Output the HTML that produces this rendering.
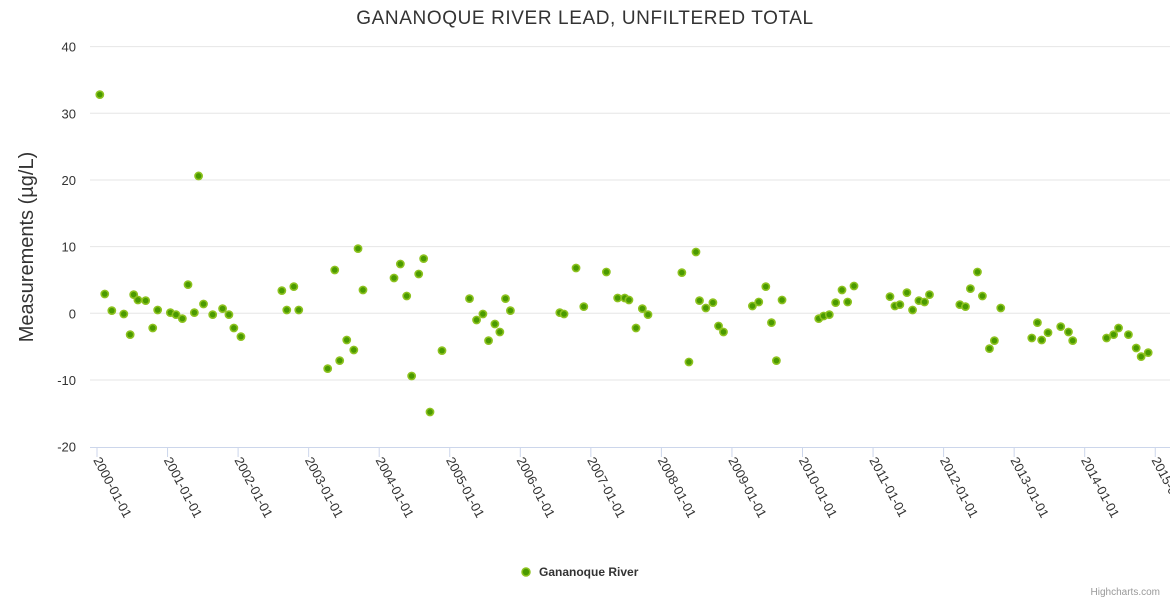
<!DOCTYPE html>
<html><head><meta charset="utf-8"><style>
body{margin:0;background:#fff;font-family:"Liberation Sans",sans-serif}
svg text{font-family:"Liberation Sans",sans-serif}
</style></head><body>
<svg id="c" width="1170" height="600" xmlns="http://www.w3.org/2000/svg">
<rect width="1170" height="600" fill="#fff"/>
<text x="585" y="24" text-anchor="middle" font-size="19" letter-spacing="0.6" fill="#333">GANANOQUE RIVER LEAD, UNFILTERED TOTAL</text>
<text transform="translate(33,247) rotate(-90)" text-anchor="middle" font-size="20" fill="#333">Measurements (µg/L)</text>
<g id="grid"></g><g id="xaxis"></g><g id="pts"></g>
<g>
<circle cx="526" cy="572" r="4" fill="#4a9a00" stroke="#8dc21f" stroke-width="1.5"/>
<text x="539" y="576" font-size="12" font-weight="bold" fill="#333">Gananoque River</text>
</g>
<text x="1160" y="595" text-anchor="end" font-size="10" fill="#999">Highcharts.com</text>
</svg>
<script>
const yTicks=[40,30,20,10,0,-10,-20];
const xTickYears=[2000,2001,2002,2003,2004,2005,2006,2007,2008,2009,2010,2011,2012,2013,2014,2015];
const dates=[2000.04,2000.11,2000.21,2000.38,2000.47,2000.52,2000.58,2000.69,2000.79,2000.86,2001.04,2001.12,2001.21,2001.29,2001.38,2001.44,2001.51,2001.64,2001.78,2001.87,2001.94,2002.04,2002.62,2002.69,2002.79,2002.86,2003.27,2003.37,2003.44,2003.54,2003.64,2003.70,2003.77,2004.21,2004.30,2004.39,2004.46,2004.56,2004.63,2004.72,2004.89,2005.28,2005.38,2005.47,2005.55,2005.64,2005.71,2005.79,2005.86,2006.56,2006.62,2006.79,2006.90,2007.22,2007.38,2007.48,2007.54,2007.64,2007.73,2007.81,2008.29,2008.39,2008.49,2008.54,2008.63,2008.73,2008.81,2008.88,2009.29,2009.38,2009.48,2009.56,2009.63,2009.71,2010.23,2010.30,2010.38,2010.47,2010.56,2010.64,2010.73,2011.24,2011.31,2011.38,2011.48,2011.56,2011.65,2011.73,2011.80,2012.23,2012.31,2012.38,2012.48,2012.55,2012.65,2012.72,2012.81,2013.25,2013.33,2013.39,2013.48,2013.66,2013.77,2013.83,2014.31,2014.41,2014.48,2014.62,2014.73,2014.80,2014.90];
const values=[32.8,2.9,0.4,-0.1,-3.2,2.8,2.0,1.9,-2.2,0.5,0.1,-0.2,-0.8,4.3,0.1,20.6,1.4,-0.2,0.7,-0.2,-2.2,-3.5,3.4,0.5,4.0,0.5,-8.3,6.5,-7.1,-4.0,-5.5,9.7,3.5,5.3,7.4,2.6,-9.4,5.9,8.2,-14.8,-5.6,2.2,-1.0,-0.1,-4.1,-1.6,-2.8,2.2,0.4,0.1,-0.1,6.8,1.0,6.2,2.3,2.3,2.0,-2.2,0.7,-0.2,6.1,-7.3,9.2,1.9,0.8,1.6,-1.9,-2.8,1.1,1.7,4.0,-1.4,-7.1,2.0,-0.8,-0.4,-0.2,1.6,3.5,1.7,4.1,2.5,1.1,1.3,3.1,0.5,1.9,1.7,2.8,1.3,1.0,3.7,6.2,2.6,-5.3,-4.1,0.8,-3.7,-1.4,-4.0,-2.9,-2.0,-2.8,-4.1,-3.7,-3.2,-2.2,-3.2,-5.2,-6.5,-5.9];
const NS="http://www.w3.org/2000/svg";
const xs=y=>97+(y-2000)*70.55;
const ys=v=>313.3-v*6.667;
function mk(t,a,p){const e=document.createElementNS(NS,t);for(const k in a)e.setAttribute(k,a[k]);p.appendChild(e);return e;}
const grid=document.getElementById('grid'),xa=document.getElementById('xaxis'),pts=document.getElementById('pts');
yTicks.forEach(v=>{
 if(v!==-20){const l=mk('line',{x1:90,x2:1170,y1:ys(v),y2:ys(v),stroke:'#e6e6e6','stroke-width':1},grid);
 
 }
 const t=mk('text',{x:76,y:ys(v)+5,'text-anchor':'end','font-size':13,fill:'#333'},grid);t.textContent=v;
 
 
});
const ax=mk('line',{x1:90,x2:1170,y1:447.5,y2:447.5,stroke:'#ccd6eb','stroke-width':1},xa);


xTickYears.forEach(yr=>{
 const x=xs(yr);
 mk('line',{x1:x,x2:x,y1:447,y2:457,stroke:'#ccd6eb'},xa);
 const t=mk('text',{transform:`translate(${x-4},${460}) rotate(62)`,'font-size':13,fill:'#333'},xa);
 t.textContent=yr+'-01-01';
 
 
});
dates.forEach((d,i)=>{
 const c=mk('circle',{cx:xs(d),cy:ys(values[i]),r:3.6,fill:'#4a9a00',stroke:'#8dc21f','stroke-width':1.6},pts);
 
 
});
</script>
</body></html>
